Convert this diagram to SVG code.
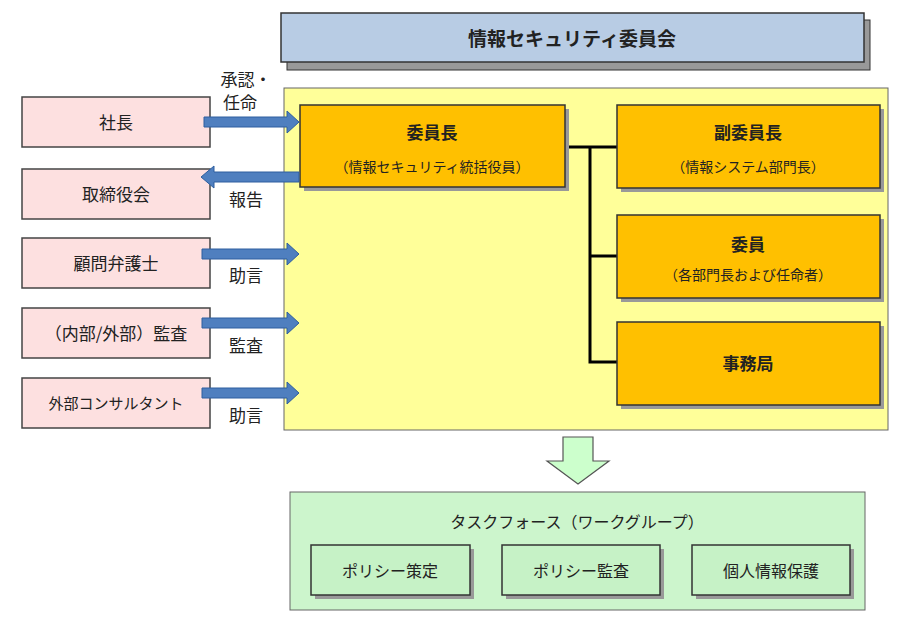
<svg xmlns="http://www.w3.org/2000/svg" width="910" height="617" viewBox="0 0 910 617">
<style>
text{font-family:"Noto Sans CJK JP","Noto Sans",sans-serif;fill:#222;text-anchor:middle}
.l{fill:#fde0e0;stroke:#444;stroke-width:1.5}
.o{fill:#ffc000;stroke:#333;stroke-width:1.5}
.g{fill:#c6f2c6;stroke:#333;stroke-width:1.5}
.sh{fill:#999}
.arr{fill:#4f7fbf;stroke:#2f5f9f;stroke-width:1}
</style>
<rect x="0" y="0" width="910" height="617" fill="#fff"/>
<g id="title"><rect x="287" y="20" width="583" height="50" class="sh" stroke="#333"/><rect x="281" y="13" width="583" height="49" fill="#b8cce4" stroke="#333" stroke-width="1.5"/><text x="572" y="46" font-size="19" font-weight="bold">情報セキュリティ委員会</text></g>
<g id="committee"><rect x="284" y="88" width="604" height="342" fill="#ffff99" stroke="#666"/></g>
<g id="connectors" stroke="#000" stroke-width="3" fill="none">
<path d="M565 147H617M590 147V362H617M590 256H617"/>
</g>
<g id="chair"><rect x="304" y="109" width="265" height="82" class="sh"/><rect x="300" y="105" width="265" height="82" class="o"/><text x="432" y="139" font-size="17" font-weight="bold">委員長</text><text x="432" y="172" font-size="14" fill="#444">（情報セキュリティ統括役員）</text></g>
<g id="vice"><rect x="621" y="109" width="263" height="83" class="sh"/><rect x="617" y="105" width="263" height="83" class="o"/><text x="748" y="139" font-size="17" font-weight="bold">副委員長</text><text x="748" y="172" font-size="14">（情報システム部門長）</text></g>
<g id="member"><rect x="621" y="219" width="263" height="83" class="sh"/><rect x="617" y="215" width="263" height="83" class="o"/><text x="748" y="251" font-size="17" font-weight="bold">委員</text><text x="748" y="280" font-size="14">（各部門長および任命者）</text></g>
<g id="office"><rect x="621" y="326" width="263" height="83" class="sh"/><rect x="617" y="322" width="263" height="83" class="o"/><text x="748" y="370" font-size="17" font-weight="bold">事務局</text></g>
<g id="president"><rect x="22" y="97" width="188" height="50" class="l"/><text x="116" y="129" font-size="17">社長</text></g>
<g id="board"><rect x="22" y="169" width="188" height="50" class="l"/><text x="116" y="201" font-size="17">取締役会</text></g>
<g id="lawyer"><rect x="22" y="238" width="188" height="50" class="l"/><text x="116" y="270" font-size="17">顧問弁護士</text></g>
<g id="audit"><rect x="22" y="308" width="188" height="50" class="l"/><text x="116" y="340" font-size="17">（内部/外部）監査</text></g>
<g id="consultant"><rect x="22" y="378" width="188" height="50" class="l"/><text x="116" y="409" font-size="15">外部コンサルタント</text></g>
<g id="arrows">
<path class="arr" d="M204 117H287V111L299 122L287 133V127H204Z"/>
<path class="arr" d="M299 172H214V166L201 177L214 188V182H299Z"/>
<path class="arr" d="M202 249H287V243L299 254L287 265V259H202Z"/>
<path class="arr" d="M202 318H287V312L299 323L287 334V328H202Z"/>
<path class="arr" d="M202 388H287V382L299 393L287 404V398H202Z"/>
</g>
<g id="labels">
<text x="246" y="86" font-size="17">承認・</text><text x="240" y="109" font-size="17">任命</text>
<text x="246" y="206" font-size="17">報告</text>
<text x="246" y="282" font-size="17">助言</text>
<text x="246" y="352" font-size="17">監査</text>
<text x="246" y="422" font-size="17">助言</text>
</g>
<g id="down"><path d="M563 437H593V461H609L578 484L547 461H563Z" fill="#ccffcc" stroke="#555" stroke-width="1.2"/></g>
<g id="task"><rect x="290" y="492" width="575" height="118" fill="#ccf5cc" stroke="#666"/><text x="577" y="528" font-size="16">タスクフォース（ワークグループ）</text></g>
<g id="policy"><rect x="315" y="549" width="159" height="50" class="sh"/><rect x="311" y="545" width="159" height="50" class="g"/><text x="390" y="577" font-size="16">ポリシー策定</text></g>
<g id="policyaudit"><rect x="506" y="549" width="158" height="50" class="sh"/><rect x="502" y="545" width="158" height="50" class="g"/><text x="581" y="577" font-size="16">ポリシー監査</text></g>
<g id="privacy"><rect x="696" y="549" width="158" height="50" class="sh"/><rect x="692" y="545" width="158" height="50" class="g"/><text x="771" y="577" font-size="16">個人情報保護</text></g>
</svg>
